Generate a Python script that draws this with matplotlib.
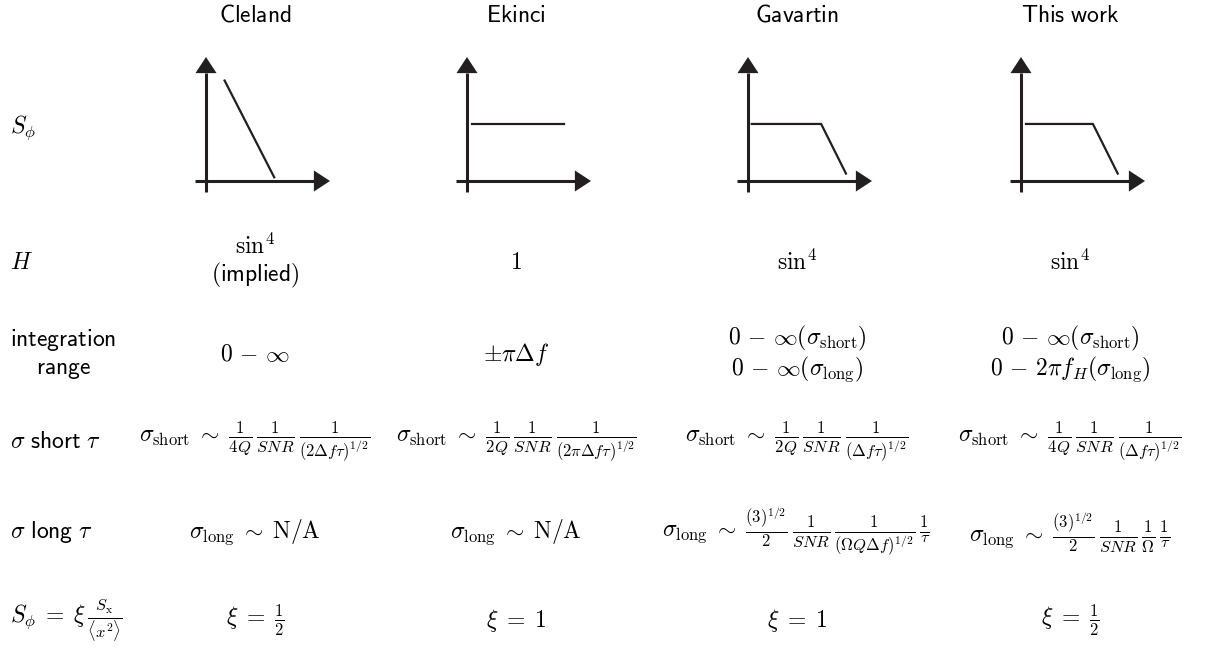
import numpy as np
import matplotlib.pyplot as plt
from matplotlib.patches import Polygon

plt.rcParams['mathtext.fontset'] = 'cm'

W, H = 1205, 648

columns = ['Cleland', 'Ekinci', 'Gavartin', 'This work']

# spectrum sketches (f, S in units of the drawn axis length)
spec_f = [[0.15, 0.55], [0.04, 0.78], [0.03, 0.59, 0.79], [0.04, 0.58, 0.78]]
spec_S = [[0.81, 0.03], [0.46, 0.46], [0.46, 0.46, 0.06], [0.46, 0.46, 0.06]]

row_labels = [r'$S_\phi$',
              r'$H$',
              r'$\mathsf{integration}$' + '\n' + r'$\mathsf{range}$',
              r'$\sigma\ \mathsf{short}\ \tau$',
              r'$\sigma\ \mathsf{long}\ \tau$',
              r'$S_\phi \;=\; \xi\,\frac{S_{\rm x}}{\langle x^2\rangle}$']

H_vals = [r'$\sin^4$' + '\n' + r'$\mathsf{(implied)}$',
          r'$\mathsf{1}$',
          r'$\sin^4$',
          r'$\sin^4$']

int_range = [r'$0\,-\,\infty$',
             r'$\pm\pi\Delta f$',
             r'$0\,-\,\infty(\sigma_{\rm short})$' + '\n' + r'$0\,-\,\infty(\sigma_{\rm long})$',
             r'$0\,-\,\infty(\sigma_{\rm short})$' + '\n' + r'$0\,-\,2\pi f_H(\sigma_{\rm long})$']

sigma_short = [r'$\sigma_{\rm short}\;\sim\;\frac{1}{4Q}\,\frac{1}{SNR}\,\frac{1}{(2\Delta f\tau)^{1/2}}$',
               r'$\sigma_{\rm short}\;\sim\;\frac{1}{2Q}\,\frac{1}{SNR}\,\frac{1}{(2\pi\Delta f\tau)^{1/2}}$',
               r'$\sigma_{\rm short}\;\sim\;\frac{1}{2Q}\,\frac{1}{SNR}\,\frac{1}{(\Delta f\tau)^{1/2}}$',
               r'$\sigma_{\rm short}\;\sim\;\frac{1}{4Q}\,\frac{1}{SNR}\,\frac{1}{(\Delta f\tau)^{1/2}}$']

sigma_long = [r'$\sigma_{\rm long}\;\sim\;{\rm N/A}$',
              r'$\sigma_{\rm long}\;\sim\;{\rm N/A}$',
              r'$\sigma_{\rm long}\;\sim\;\frac{(3)^{1/2}}{2}\,\frac{1}{SNR}\,\frac{1}{(\Omega Q\Delta f)^{1/2}}\,\frac{1}{\tau}$',
              r'$\sigma_{\rm long}\;\sim\;\frac{(3)^{1/2}}{2}\,\frac{1}{SNR}\,\frac{1}{\Omega}\,\frac{1}{\tau}$']

xi_vals = [r'$\xi\;=\;\frac{1}{2}$', r'$\xi\;=\;1$', r'$\xi\;=\;1$', r'$\xi\;=\;\frac{1}{2}$']

col_x = [255, 516, 797, 1070]
row_y = [128, 262, 354, 441, 532, 620]
ink = '#231f20'

fig = plt.figure(figsize=(W / 100, H / 100), dpi=100)
ax = fig.add_axes([0, 0, 1, 1])
ax.set_xlim(0, W)
ax.set_ylim(H, 0)
ax.axis('off')

fs = 17
for lab, y in zip(row_labels, row_y):
    ax.text(10, y, lab, ha='left', va='center', fontsize=fs, color='black',
            multialignment='center', linespacing=1.1)

for name, x in zip(columns, col_x):
    ax.text(x, 15, r'$\mathsf{' + name.replace(' ', r'\ ') + '}$', ha='center', va='center',
            fontsize=fs, color='black')

for rows, y in zip([H_vals, int_range, sigma_short, sigma_long, xi_vals], row_y[1:]):
    for s, x in zip(rows, col_x):
        ax.text(x, y, s, ha='center', va='center', fontsize=fs, color='black',
                multialignment='center', linespacing=1.1)

# small spectrum sketches
u = 124.0  # px per sketch unit
for i, x in enumerate(col_x):
    x0 = x - 49
    left, right = x0 - 14, x0 + 128
    top, bottom = 54, 196
    sax = fig.add_axes([left / W, 1 - bottom / H, (right - left) / W, (bottom - top) / H])
    sax.set_xlim((left - x0) / u, (right - x0) / u)
    sax.set_ylim((181 - bottom) / u, (181 - top) / u)
    sax.axis('off')
    sax.plot([0, 0], [-0.09, 0.87], color=ink, lw=2.2, solid_capstyle='butt')
    sax.plot([-0.09, 0.87], [0, 0], color=ink, lw=2.2, solid_capstyle='butt')
    sax.add_patch(Polygon([[-0.085, 0.87], [0.085, 0.87], [0, 1.0]], closed=True,
                          color=ink, lw=0))
    sax.add_patch(Polygon([[0.87, -0.085], [0.87, 0.085], [1.0, 0]], closed=True,
                          color=ink, lw=0))
    sax.plot(spec_f[i], spec_S[i], color=ink, lw=1.6)

fig.savefig('out.png', dpi=100)
